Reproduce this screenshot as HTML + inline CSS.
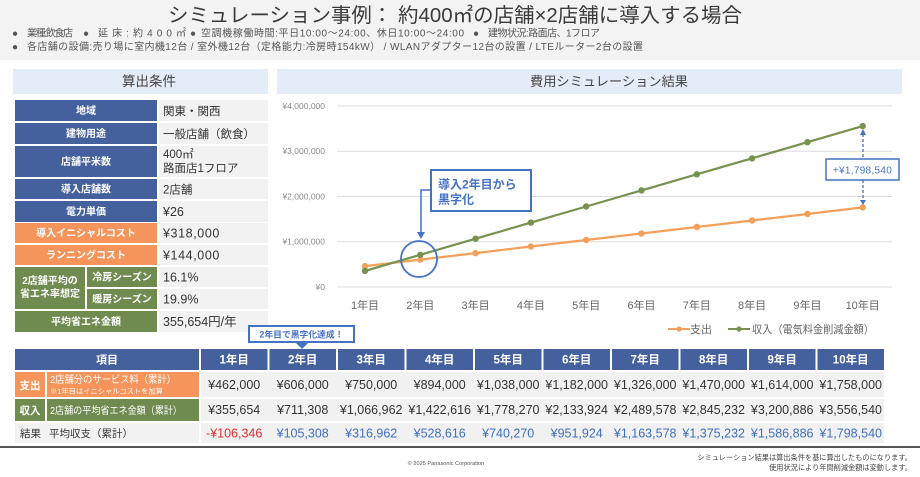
<!DOCTYPE html>
<html><head><meta charset="utf-8">
<style>
*{margin:0;padding:0}
body{width:920px;height:477px;overflow:hidden;background:#fff}
svg{display:block;font-family:"Liberation Sans","Noto Sans CJK JP",sans-serif}
</style></head>
<body>
<svg width="920" height="477" viewBox="0 0 920 477" xmlns="http://www.w3.org/2000/svg">
<!-- header -->
<rect x="0" y="0" width="920" height="60" fill="#f3f3f3"/>
<text x="168" y="22" font-size="20" fill="#3a3a3a" textLength="574" lengthAdjust="spacingAndGlyphs">シミュレーション事例： 約400㎡の店舗×2店舗に導入する場合</text>
<g font-size="10" fill="#555">
<text x="12" y="36.5">●</text><text x="27" y="36.5" textLength="46" lengthAdjust="spacing">業種:飲食店</text>
<text x="83" y="36.5">●</text><text x="98" y="36.5" textLength="88" lengthAdjust="spacing">延床:約400㎡</text>
<text x="190" y="36.5">●</text><text x="201" y="36.5" textLength="263" lengthAdjust="spacing">空調機稼働時間:平日10:00～24:00、休日10:00～24:00</text>
<text x="473" y="36.5">●</text><text x="488" y="36.5" textLength="112" lengthAdjust="spacing">建物状況:路面店、1フロア</text>
<text x="12" y="50">●</text><text x="27" y="50" textLength="616" lengthAdjust="spacing">各店舗の設備:売り場に室内機12台 / 室外機12台（定格能力:冷房時154kW） / WLANアダプター12台の設置 / LTEルーター2台の設置</text>
</g>

<!-- left panel header -->
<rect x="13" y="69" width="255" height="25" fill="#e4ecf8"/>
<text x="149" y="86" font-size="13.5" fill="#444" text-anchor="middle">算出条件</text>

<!-- left table -->
<g>
<rect x="15" y="100" width="142" height="21" fill="#44619e"/><rect x="159" y="100" width="109" height="21" fill="#f2f2f2"/>
<rect x="15" y="123" width="142" height="21" fill="#44619e"/><rect x="159" y="123" width="109" height="21" fill="#f2f2f2"/>
<rect x="15" y="146" width="142" height="31" fill="#44619e"/><rect x="159" y="146" width="109" height="31" fill="#f2f2f2"/>
<rect x="15" y="179" width="142" height="20" fill="#44619e"/><rect x="159" y="179" width="109" height="20" fill="#f2f2f2"/>
<rect x="15" y="201" width="142" height="21" fill="#44619e"/><rect x="159" y="201" width="109" height="21" fill="#f2f2f2"/>
<rect x="15" y="223" width="142" height="20" fill="#f5955b"/><rect x="159" y="223" width="109" height="20" fill="#f2f2f2"/>
<rect x="15" y="245" width="142" height="20" fill="#f5955b"/><rect x="159" y="245" width="109" height="20" fill="#f2f2f2"/>
<rect x="15" y="267" width="70" height="42" fill="#6f8b4f"/>
<rect x="87" y="267" width="70" height="20" fill="#6f8b4f"/><rect x="159" y="267" width="109" height="20" fill="#f2f2f2"/>
<rect x="87" y="289" width="70" height="20" fill="#6f8b4f"/><rect x="159" y="289" width="109" height="20" fill="#f2f2f2"/>
<rect x="15" y="311" width="142" height="21" fill="#6f8b4f"/><rect x="159" y="311" width="109" height="21" fill="#f2f2f2"/>
</g>
<g font-size="10" fill="#fff" font-weight="bold" text-anchor="middle">
<text x="86" y="114">地域</text>
<text x="86" y="137">建物用途</text>
<text x="86" y="165">店舗平米数</text>
<text x="86" y="192.5">導入店舗数</text>
<text x="86" y="215">電力単価</text>
<text x="86" y="236.5">導入イニシャルコスト</text>
<text x="86" y="258.5">ランニングコスト</text>
<text x="50" y="284">2店舗平均の</text>
<text x="50" y="297">省エネ率想定</text>
<text x="122" y="280.5">冷房シーズン</text>
<text x="122" y="302.5">暖房シーズン</text>
<text x="86" y="325">平均省エネ金額</text>
</g>
<g font-size="11.5" fill="#333">
<text x="163" y="115">関東・関西</text>
<text x="163" y="138">一般店舗（飲食）</text>
<text x="163" y="158">400㎡</text>
<text x="163" y="172">路面店1フロア</text>
<text x="163" y="193.5">2店舗</text>
<text x="163" y="216" font-size="12.5">¥26</text>
<text x="163" y="237.5" font-size="12.5" letter-spacing="0.6">¥318,000</text>
<text x="163" y="259.5" font-size="12.5" letter-spacing="0.6">¥144,000</text>
<text x="163" y="281.5" font-size="12.5">16.1%</text>
<text x="163" y="303.5" font-size="12.5">19.9%</text>
<text x="163" y="326" font-size="12.5">355,654円/年</text>
</g>

<!-- chart panel -->
<rect x="277" y="69" width="625" height="25" fill="#e4ecf8"/>
<text x="530" y="86" font-size="13" fill="#444" textLength="158" lengthAdjust="spacingAndGlyphs">費用シミュレーション結果</text>
<g stroke="#dcdcdc" stroke-width="1">
<line x1="337" y1="106" x2="892" y2="106"/>
<line x1="337" y1="151.25" x2="892" y2="151.25"/>
<line x1="337" y1="196.5" x2="892" y2="196.5"/>
<line x1="337" y1="241.75" x2="892" y2="241.75"/>
<line x1="337" y1="287" x2="892" y2="287"/>
</g>
<g font-size="8.5" fill="#8a8a8a" text-anchor="end">
<text x="325" y="109">¥4,000,000</text>
<text x="325" y="154">¥3,000,000</text>
<text x="325" y="199.5">¥2,000,000</text>
<text x="325" y="244.5">¥1,000,000</text>
<text x="325" y="290">¥0</text>
</g>
<g font-size="11" fill="#666" text-anchor="middle">
<text x="365" y="309">1年目</text>
<text x="420.3" y="309">2年目</text>
<text x="475.6" y="309">3年目</text>
<text x="530.9" y="309">4年目</text>
<text x="586.2" y="309">5年目</text>
<text x="641.5" y="309">6年目</text>
<text x="696.8" y="309">7年目</text>
<text x="752.1" y="309">8年目</text>
<text x="807.4" y="309">9年目</text>
<text x="862.7" y="309">10年目</text>
</g>
<polyline fill="none" stroke="#f4a05a" stroke-width="2.2" points="365,266.1 420.3,259.6 475.6,253.1 530.9,246.5 586.2,240 641.5,233.5 696.8,227 752.1,220.5 807.4,214 862.7,207.4"/>
<g fill="#f4a05a">
<circle cx="365" cy="266.1" r="3.2"/><circle cx="420.3" cy="259.6" r="3.2"/><circle cx="475.6" cy="253.1" r="3.2"/><circle cx="530.9" cy="246.5" r="3.2"/><circle cx="586.2" cy="240" r="3.2"/><circle cx="641.5" cy="233.5" r="3.2"/><circle cx="696.8" cy="227" r="3.2"/><circle cx="752.1" cy="220.5" r="3.2"/><circle cx="807.4" cy="214" r="3.2"/><circle cx="862.7" cy="207.4" r="3.2"/>
</g>
<polyline fill="none" stroke="#76924e" stroke-width="2.2" points="365,270.9 420.3,254.8 475.6,238.7 530.9,222.6 586.2,206.5 641.5,190.4 696.8,174.3 752.1,158.3 807.4,142.2 862.7,126.1"/>
<g fill="#76924e">
<circle cx="365" cy="270.9" r="3.2"/><circle cx="420.3" cy="254.8" r="3.2"/><circle cx="475.6" cy="238.7" r="3.2"/><circle cx="530.9" cy="222.6" r="3.2"/><circle cx="586.2" cy="206.5" r="3.2"/><circle cx="641.5" cy="190.4" r="3.2"/><circle cx="696.8" cy="174.3" r="3.2"/><circle cx="752.1" cy="158.3" r="3.2"/><circle cx="807.4" cy="142.2" r="3.2"/><circle cx="862.7" cy="126.1" r="3.2"/>
</g>

<!-- annotation -->
<path d="M431,190 H421 V233" fill="none" stroke="#4472c4" stroke-width="1.5"/>
<polygon points="417,232 425,232 421,239" fill="#4472c4"/>
<circle cx="419" cy="259" r="18" fill="none" stroke="#4472c4" stroke-width="1.8"/>
<rect x="431" y="170" width="100" height="41" fill="#fff" stroke="#4472c4" stroke-width="2"/>
<text x="438" y="188.5" font-size="12" font-weight="bold" fill="#4472c4">導入2年目から</text>
<text x="438" y="203.5" font-size="12" font-weight="bold" fill="#4472c4">黒字化</text>

<g stroke="#4472c4" stroke-width="1.3" stroke-dasharray="3,2">
<line x1="863" y1="134" x2="863" y2="159"/>
<line x1="863" y1="180" x2="863" y2="201"/>
</g>
<polygon points="860,135 866,135 863,129" fill="#4472c4"/>
<polygon points="860,200 866,200 863,205" fill="#4472c4"/>
<rect x="826" y="159" width="73" height="21" fill="#fff" stroke="#4472c4" stroke-width="1.5"/>
<text x="862.5" y="173.5" font-size="10" fill="#4472c4" text-anchor="middle" letter-spacing="0.3">+¥1,798,540</text>

<!-- legend -->
<line x1="668" y1="329" x2="690" y2="329" stroke="#f4a05a" stroke-width="2"/>
<circle cx="679" cy="329" r="2.6" fill="#f4a05a"/>
<text x="690" y="333" font-size="11" fill="#666">支出</text>
<line x1="728" y1="329" x2="750" y2="329" stroke="#76924e" stroke-width="2"/>
<circle cx="739" cy="329" r="2.6" fill="#76924e"/>
<text x="752" y="333" font-size="11" fill="#666" textLength="122" lengthAdjust="spacingAndGlyphs">収入（電気料金削減金額）</text>

<!-- bottom table header -->
<g fill="#44619e">
<rect x="15" y="349" width="184" height="21"/>
<rect x="201" y="349" width="66.5" height="21"/><rect x="269.5" y="349" width="66.5" height="21"/><rect x="338" y="349" width="66.5" height="21"/><rect x="406.5" y="349" width="66.5" height="21"/><rect x="475" y="349" width="66.5" height="21"/><rect x="543.5" y="349" width="66.5" height="21"/><rect x="612" y="349" width="66.5" height="21"/><rect x="680.5" y="349" width="66.5" height="21"/><rect x="749" y="349" width="66.5" height="21"/><rect x="817.5" y="349" width="66.5" height="21"/>
</g>
<g font-size="11.5" font-weight="bold" fill="#fff" text-anchor="middle">
<text x="107" y="363.5" font-size="11">項目</text>
<text x="234.2" y="363.5">1年目</text><text x="302.7" y="363.5">2年目</text><text x="371.2" y="363.5">3年目</text><text x="439.7" y="363.5">4年目</text><text x="508.2" y="363.5">5年目</text><text x="576.7" y="363.5">6年目</text><text x="645.2" y="363.5">7年目</text><text x="713.7" y="363.5">8年目</text><text x="782.2" y="363.5">9年目</text><text x="850.7" y="363.5">10年目</text>
</g>

<!-- rows bg -->
<rect x="15" y="372" width="30" height="25" fill="#f5955b"/><rect x="47" y="372" width="152" height="25" fill="#f5955b"/>
<rect x="15" y="399" width="30" height="22" fill="#6f8b4f"/><rect x="47" y="399" width="152" height="22" fill="#6f8b4f"/>
<rect x="15" y="423" width="184" height="20" fill="#f2f2f2"/>
<g fill="#f1f1f1">
<rect x="201" y="372" width="683" height="25"/>
<rect x="201" y="399" width="683" height="22"/>
<rect x="201" y="423" width="683" height="20"/>
</g>

<g fill="#fff">
<text x="30" y="389" font-size="10.5" font-weight="bold" text-anchor="middle">支出</text>
<text x="50" y="383" font-size="10" textLength="126" lengthAdjust="spacingAndGlyphs">2店舗分のサービス料（累計）</text>
<text x="50" y="393.5" font-size="6.8" textLength="113" lengthAdjust="spacingAndGlyphs">※1年目はイニシャルコストを加算</text>
<text x="30" y="414" font-size="10.5" font-weight="bold" text-anchor="middle">収入</text>
<text x="50" y="414" font-size="10" textLength="132" lengthAdjust="spacingAndGlyphs">2店舗の平均省エネ金額（累計）</text>
</g>
<text x="20" y="437" font-size="10.5" fill="#333">結果</text>
<text x="49" y="437" font-size="10.5" fill="#333">平均収支（累計）</text>

<g font-size="12.5" fill="#333" text-anchor="middle">
<text x="234.2" y="389">¥462,000</text><text x="302.7" y="389">¥606,000</text><text x="371.2" y="389">¥750,000</text><text x="439.7" y="389">¥894,000</text><text x="508.2" y="389">¥1,038,000</text><text x="576.7" y="389">¥1,182,000</text><text x="645.2" y="389">¥1,326,000</text><text x="713.7" y="389">¥1,470,000</text><text x="782.2" y="389">¥1,614,000</text><text x="850.7" y="389">¥1,758,000</text>
<text x="234.2" y="414">¥355,654</text><text x="302.7" y="414">¥711,308</text><text x="371.2" y="414">¥1,066,962</text><text x="439.7" y="414">¥1,422,616</text><text x="508.2" y="414">¥1,778,270</text><text x="576.7" y="414">¥2,133,924</text><text x="645.2" y="414">¥2,489,578</text><text x="713.7" y="414">¥2,845,232</text><text x="782.2" y="414">¥3,200,886</text><text x="850.7" y="414">¥3,556,540</text>
</g>
<g font-size="12.5" fill="#3f6fbf" text-anchor="middle">
<text x="234.2" y="437.5" fill="#e0302f">-¥106,346</text><text x="302.7" y="437.5">¥105,308</text><text x="371.2" y="437.5">¥316,962</text><text x="439.7" y="437.5">¥528,616</text><text x="508.2" y="437.5">¥740,270</text><text x="576.7" y="437.5">¥951,924</text><text x="645.2" y="437.5">¥1,163,578</text><text x="713.7" y="437.5">¥1,375,232</text><text x="782.2" y="437.5">¥1,586,886</text><text x="850.7" y="437.5">¥1,798,540</text>
</g>

<!-- callout -->
<rect x="249" y="326" width="105" height="16" fill="#fff" stroke="#4472c4" stroke-width="2"/>
<polygon points="296,343 308,343 302,349" fill="#4472c4"/>
<text x="301.5" y="337.5" font-size="8.8" font-weight="bold" fill="#4472c4" text-anchor="middle">2年目で黒字化達成！</text>

<!-- footer -->
<rect x="0" y="446" width="920" height="2" fill="#555"/>
<text x="446" y="465" font-size="5.6" fill="#555" text-anchor="middle">© 2025 Panasonic Corporation</text>
<text x="912" y="460" font-size="7.2" fill="#444" text-anchor="end">シミュレーション結果は算出条件を基に算出したものになります。</text>
<text x="912" y="470" font-size="7.2" fill="#444" text-anchor="end">使用状況により年間削減金額は変動します。</text>
</svg>
</body></html>
